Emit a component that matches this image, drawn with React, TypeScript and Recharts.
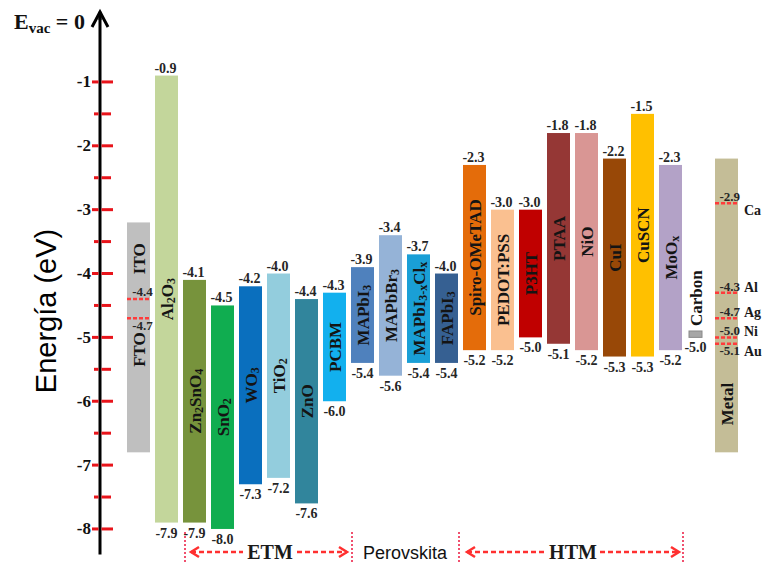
import { BarChart, Bar, XAxis, YAxis } from "recharts";

// Energy levels (eV, vacuum = 0) of each layer material
const materials = [
  "FTO/ITO",
  "Al_2O_3",
  "Zn_2SnO_4",
  "SnO_2",
  "WO_3",
  "TiO_2",
  "ZnO",
  "PCBM",
  "MAPbI_3",
  "MAPbBr_3",
  "MAPbI_{3-x}Cl_x",
  "FAPbI_3",
  "Spiro-OMeTAD",
  "PEDOT:PSS",
  "P3HT",
  "PTAA",
  "NiO",
  "CuI",
  "CuSCN",
  "MoO_x",
  "Carbon",
  "Metal",
];
const upperLevels = [
  -3.2, -0.9, -4.1, -4.5, -4.2, -4.0, -4.4, -4.3, -3.9, -3.4, -3.7, -4.0,
  -2.3, -3.0, -3.0, -1.8, -1.8, -2.2, -1.5, -2.3, -4.9, -2.2,
];
const lowerLevels = [
  -6.8, -7.9, -7.9, -8.0, -7.3, -7.2, -7.6, -6.0, -5.4, -5.6, -5.4, -5.4,
  -5.2, -5.2, -5.0, -5.1, -5.2, -5.3, -5.3, -5.2, -5.0, -6.8,
];
const barColors = [
  "#bfbfbf", "#c3d69b", "#77933c", "#10ad50", "#0a6fbe", "#93cddd",
  "#31859c", "#12b0ee", "#4f81bd", "#95b3d7", "#1a9fd6", "#366092",
  "#e46c0a", "#fac090", "#c00000", "#953735", "#d99694", "#984807",
  "#ffc000", "#b3a2c7", "#a6a6a6", "#c4bd97",
];

// work functions of the transparent electrodes and the back-contact metals
const electrodeNames = ["ITO", "FTO"];
const electrodeValues = [-4.4, -4.7];
const metalNames = ["Ca", "Al", "Ag", "Ni", "Au"];
const metalValues = [-2.9, -4.3, -4.7, -5.0, -5.1];

const yTicks = [
  -8, -7.5, -7, -6.5, -6, -5.5, -5, -4.5, -4, -3.5, -3, -2.5, -2, -1.5, -1,
];

const SERIF = "'Liberation Serif', 'Times New Roman', serif";
const SANS = "'Liberation Sans', Arial, sans-serif";
const AXIS_X = 100;
const TICK_RED = "#e8141b";
const LEVEL_RED = "#ff3b3b";

const chartData = materials.map((name, i) => ({
  name,
  range: [lowerLevels[i], upperLevels[i]],
}));

function parseFormula(label: string) {
  const parts: { text: string; sub: boolean }[] = [];
  let buf = "";
  let i = 0;
  while (i < label.length) {
    const c = label[i];
    if (c === "_") {
      if (buf) parts.push({ text: buf, sub: false });
      buf = "";
      if (label[i + 1] === "{") {
        const end = label.indexOf("}", i);
        parts.push({ text: label.slice(i + 2, end), sub: true });
        i = end + 1;
      } else {
        parts.push({ text: label[i + 1], sub: true });
        i += 2;
      }
    } else {
      buf += c;
      i++;
    }
  }
  if (buf) parts.push({ text: buf, sub: false });
  return parts;
}

function VerticalLabel({
  x,
  y,
  label,
  anchor = "middle",
  size = 17,
}: {
  x: number;
  y: number;
  label: string;
  anchor?: string;
  size?: number;
}) {
  let shifted = false;
  const parts = parseFormula(label).map((p, k) => {
    const dy = p.sub && !shifted ? 4 : !p.sub && shifted ? -4 : 0;
    shifted = p.sub;
    return (
      <tspan key={k} dy={dy} fontSize={p.sub ? 12 : size}>
        {p.text}
      </tspan>
    );
  });
  return (
    <text
      transform={`translate(${x},${y}) rotate(-90)`}
      textAnchor={anchor as any}
      dominantBaseline="central"
      fontFamily={SERIF}
      fontWeight="bold"
      fontSize={size}
      fill="#141414"
    >
      {parts}
    </text>
  );
}

const valueStyle = {
  fontFamily: SERIF,
  fontWeight: "bold" as const,
  fontSize: 14,
  fill: "#262626",
};

function renderMaterial(props: any) {
  const { x, y, width, height, index } = props;
  const name = materials[index];
  const hi = upperLevels[index];
  const lo = lowerLevels[index];
  const top = Math.min(y, y + height);
  const h = Math.abs(height);
  const cx = x + width / 2;
  const yAt = (v: number) => top + ((hi - v) / (hi - lo)) * h;
  const thin = name === "Carbon";
  const isElectrode = name === "FTO/ITO";
  const isMetal = name === "Metal";
  const w = thin ? 13 : width;
  const bx = cx - w / 2 - (thin ? 3 : 0);

  const out: any[] = [
    <rect
      key="bar"
      x={bx}
      y={top}
      width={w}
      height={h}
      fill={barColors[index]}
      stroke={thin ? "#8a8a8a" : "none"}
      strokeWidth={thin ? 1 : 0}
    />,
  ];

  if (!isElectrode && !isMetal) {
    if (!thin) {
      out.push(
        <text key="hi" x={cx - 1} y={top - 3} textAnchor="middle" {...valueStyle}>
          {hi.toFixed(1)}
        </text>
      );
    }
    out.push(
      <text key="lo" x={cx - (thin ? 3 : 0)} y={top + h + 15} textAnchor="middle" {...valueStyle}>
        {lo.toFixed(1)}
      </text>
    );
  }

  if (isElectrode) {
    electrodeValues.forEach((v, k) => {
      const ly = yAt(v);
      out.push(
        <line
          key={`el${k}`}
          x1={bx}
          x2={bx + w}
          y1={ly}
          y2={ly}
          stroke={LEVEL_RED}
          strokeWidth={2.5}
          strokeDasharray="4 2"
        />,
        <text
          key={`ev${k}`}
          x={cx + 4}
          y={k === 0 ? ly - 3 : ly + 12}
          textAnchor="middle"
          {...valueStyle}
          fontSize={13}
        >
          {v.toFixed(1)}
        </text>
      );
    });
    out.push(
      <VerticalLabel
        key="ito"
        x={cx}
        y={(top + yAt(electrodeValues[0])) / 2 - 2}
        label={electrodeNames[0]}
      />,
      <VerticalLabel
        key="fto"
        x={cx}
        y={yAt(electrodeValues[1]) + 14}
        label={electrodeNames[1]}
        anchor="end"
      />
    );
  } else if (isMetal) {
    metalValues.forEach((v, k) => {
      const ly = yAt(v);
      const below = k > 0 && metalValues[k - 1] - v < 0.2;
      const base = below ? ly + 11 : ly - 2;
      out.push(
        <line
          key={`ml${k}`}
          x1={bx}
          x2={bx + w}
          y1={ly}
          y2={ly}
          stroke={LEVEL_RED}
          strokeWidth={2.5}
          strokeDasharray="4 2"
        />,
        <text
          key={`mv${k}`}
          x={bx + w + 2}
          y={base}
          textAnchor="end"
          {...valueStyle}
          fontSize={13}
        >
          {v.toFixed(1)}
        </text>,
        <text
          key={`mn${k}`}
          x={bx + w + 6}
          y={k === 0 ? ly + 12 : base + 1}
          fontFamily={SERIF}
          fontWeight="bold"
          fontSize={14}
          fill="#1a1a1a"
        >
          {metalNames[k]}
        </text>
      );
    });
    const last = yAt(metalValues[metalValues.length - 1]);
    out.push(
      <VerticalLabel key="metal" x={cx} y={(last + top + h) / 2 + 6} label="Metal" />
    );
  } else if (thin) {
    out.push(
      <VerticalLabel key="name" x={bx + w / 2} y={top - 5} label={name} anchor="start" />
    );
  } else {
    out.push(<VerticalLabel key="name" x={cx} y={top + h / 2} label={name} />);
  }

  return <g>{out}</g>;
}

function AxisTick(props: any) {
  const { y, payload } = props;
  const v = payload.value as number;
  const major = Number.isInteger(v);
  const l = major ? 8 : 6;
  const r = major ? 13 : 11;
  return (
    <g>
      <line x1={AXIS_X - l} x2={AXIS_X - 1.5} y1={y} y2={y} stroke={TICK_RED} strokeWidth={3} />
      <line x1={AXIS_X + 1.5} x2={AXIS_X + r} y1={y} y2={y} stroke={TICK_RED} strokeWidth={3} />
      {major && (
        <text
          x={AXIS_X - 9}
          y={y}
          textAnchor="end"
          dominantBaseline="central"
          fontFamily={SERIF}
          fontWeight="bold"
          fontSize={17}
          fill="#111"
        >
          {String(v)}
        </text>
      )}
    </g>
  );
}

function GroupArrow({ from, to, textX, label, serif }: any) {
  const y = 552;
  return (
    <g>
      <line x1={from} x2={textX - 27} y1={y} y2={y} stroke="#ff3030" strokeWidth={2.5} strokeDasharray="5 3" />
      <line x1={textX + 27} x2={to} y1={y} y2={y} stroke="#ff3030" strokeWidth={2.5} strokeDasharray="5 3" />
      <polyline points={`${from + 8},${y - 5} ${from},${y} ${from + 8},${y + 5}`} fill="none" stroke="#ff3030" strokeWidth={2.5} />
      <polyline points={`${to - 8},${y - 5} ${to},${y} ${to - 8},${y + 5}`} fill="none" stroke="#ff3030" strokeWidth={2.5} />
      <text x={textX} y={559} textAnchor="middle" fontFamily={serif ? SERIF : SANS} fontWeight="bold" fontSize={20} fill="#1a1a1a">
        {label}
      </text>
    </g>
  );
}

export default function App() {
  return (
    <div style={{ position: "absolute", left: 0, top: 0, width: 768, height: 564, background: "#fff" }}>
      <BarChart
        width={768}
        height={564}
        data={chartData}
        margin={{ top: 11.7, right: 28, bottom: 9.5, left: 0 }}
        barSize={23}
      >
        <XAxis dataKey="name" hide padding={{ left: 24, right: 0 }} />
        <YAxis
          type="number"
          domain={[-8.4, 0.1]}
          ticks={yTicks}
          interval={0}
          width={100}
          allowDataOverflow
          axisLine={{ stroke: "#000", strokeWidth: 3 }}
          tickLine={false}
          tick={<AxisTick />}
        />
        <Bar dataKey="range" isAnimationActive={false} shape={renderMaterial} />
      </BarChart>

      <svg
        width={768}
        height={564}
        style={{ position: "absolute", left: 0, top: 0, pointerEvents: "none" }}
      >
        <polyline points="92,27 100,12 108,27" fill="none" stroke="#000" strokeWidth={3} />
        <line x1={100} x2={100} y1={13} y2={20} stroke="#000" strokeWidth={3} />
        <text x={14} y={29} fontFamily={SERIF} fontWeight="bold" fontSize={22} fill="#111">
          E
          <tspan fontSize={15} dy={4}>vac</tspan>
          <tspan dy={-4}> = 0</tspan>
        </text>
        <text
          transform="translate(46,311) rotate(-90)"
          textAnchor="middle"
          dominantBaseline="central"
          fontFamily={SANS}
          fontSize={29}
          fill="#000"
        >
          Energía (eV)
        </text>

        {[185, 352, 459, 683].map((x) => (
          <line key={x} x1={x} x2={x} y1={532} y2={564} stroke="#f0506e" strokeWidth={2} strokeDasharray="2 2" />
        ))}
        <GroupArrow from={191} to={347} textX={270} label="ETM" serif />
        <text x={405} y={559} textAnchor="middle" fontFamily={SANS} fontSize={18} fill="#111">
          Perovskita
        </text>
        <GroupArrow from={467} to={679} textX={573} label="HTM" serif />
      </svg>
    </div>
  );
}
